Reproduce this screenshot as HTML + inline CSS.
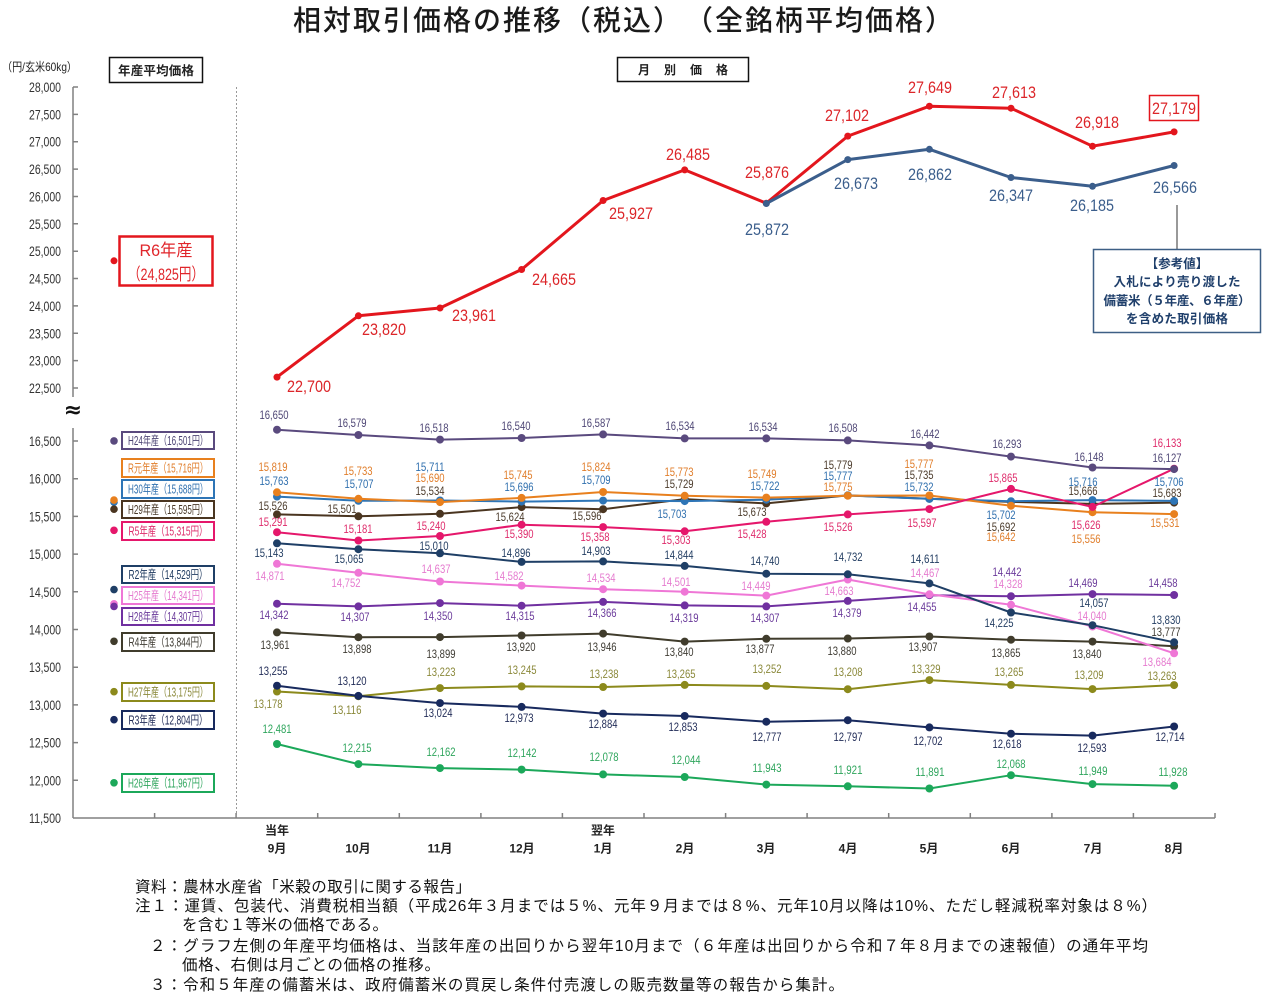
<!DOCTYPE html>
<html><head><meta charset="utf-8">
<style>
html,body{margin:0;padding:0;background:#fff;}
svg{display:block;}
.jp{font-family:"Liberation Sans","Noto Sans CJK JP",sans-serif;}
.n{font-family:"Liberation Sans Narrow","Liberation Sans",sans-serif;font-size:11.5px;text-anchor:middle;}
.u{font-family:"Liberation Sans Narrow","Liberation Sans",sans-serif;font-size:17px;text-anchor:middle;}
.t{font-family:"Liberation Sans Narrow","Liberation Sans",sans-serif;font-size:14px;text-anchor:end;fill:#333;}
.lg{font-family:"Liberation Sans","Noto Sans CJK JP",sans-serif;font-size:12.5px;text-anchor:middle;}
.mo{font-family:"Liberation Sans","Noto Sans CJK JP",sans-serif;font-size:12px;font-weight:bold;text-anchor:middle;fill:#222;}
.fn{font-family:"Liberation Sans","Noto Sans CJK JP",sans-serif;font-size:15.5px;fill:#111;}
.ln{fill:none;stroke-width:2;stroke-linejoin:round;}
</style></head>
<body>
<svg width="1277" height="1007" viewBox="0 0 1277 1007" xmlns="http://www.w3.org/2000/svg">
<defs>
<marker id="mR" markerUnits="userSpaceOnUse" markerWidth="10" markerHeight="10" viewBox="-5 -5 10 10" refX="0" refY="0"><circle r="3.5" fill="#e3161d"/></marker>
<marker id="mB" markerUnits="userSpaceOnUse" markerWidth="10" markerHeight="10" viewBox="-5 -5 10 10" refX="0" refY="0"><circle r="3.5" fill="#3b5e8c"/></marker>
<marker id="m1" markerUnits="userSpaceOnUse" markerWidth="10" markerHeight="10" viewBox="-5 -5 10 10" refX="0" refY="0"><circle r="4" fill="#5a4a7e"/></marker>
<marker id="m2" markerUnits="userSpaceOnUse" markerWidth="10" markerHeight="10" viewBox="-5 -5 10 10" refX="0" refY="0"><circle r="4" fill="#e8801e"/></marker>
<marker id="m3" markerUnits="userSpaceOnUse" markerWidth="10" markerHeight="10" viewBox="-5 -5 10 10" refX="0" refY="0"><circle r="4" fill="#2e75b6"/></marker>
<marker id="m4" markerUnits="userSpaceOnUse" markerWidth="10" markerHeight="10" viewBox="-5 -5 10 10" refX="0" refY="0"><circle r="4" fill="#4a3520"/></marker>
<marker id="m5" markerUnits="userSpaceOnUse" markerWidth="10" markerHeight="10" viewBox="-5 -5 10 10" refX="0" refY="0"><circle r="4" fill="#e5176b"/></marker>
<marker id="m6" markerUnits="userSpaceOnUse" markerWidth="10" markerHeight="10" viewBox="-5 -5 10 10" refX="0" refY="0"><circle r="4" fill="#1f3f66"/></marker>
<marker id="m7" markerUnits="userSpaceOnUse" markerWidth="10" markerHeight="10" viewBox="-5 -5 10 10" refX="0" refY="0"><circle r="4" fill="#ef77d6"/></marker>
<marker id="m8" markerUnits="userSpaceOnUse" markerWidth="10" markerHeight="10" viewBox="-5 -5 10 10" refX="0" refY="0"><circle r="4" fill="#7030a0"/></marker>
<marker id="m9" markerUnits="userSpaceOnUse" markerWidth="10" markerHeight="10" viewBox="-5 -5 10 10" refX="0" refY="0"><circle r="4" fill="#403c2c"/></marker>
<marker id="m10" markerUnits="userSpaceOnUse" markerWidth="10" markerHeight="10" viewBox="-5 -5 10 10" refX="0" refY="0"><circle r="4" fill="#8c8a1c"/></marker>
<marker id="m11" markerUnits="userSpaceOnUse" markerWidth="10" markerHeight="10" viewBox="-5 -5 10 10" refX="0" refY="0"><circle r="4" fill="#182a5e"/></marker>
<marker id="m12" markerUnits="userSpaceOnUse" markerWidth="10" markerHeight="10" viewBox="-5 -5 10 10" refX="0" refY="0"><circle r="4" fill="#1ca85a"/></marker>
</defs>

<!-- Title -->
<text class="jp" x="293" y="30" font-size="28" font-weight="500" fill="#1a1a1a" textLength="660" lengthAdjust="spacing">相対取引価格の推移（税込）　（全銘柄平均価格）</text>

<!-- unit and header boxes -->
<text class="jp" x="2" y="71" font-size="12" fill="#222" textLength="75" lengthAdjust="spacingAndGlyphs">（円/玄米60kg）</text>
<rect x="109.5" y="57.5" width="93" height="25" fill="#fff" stroke="#111" stroke-width="1.5"/>
<text class="jp" x="156" y="75" font-size="12.5" font-weight="bold" fill="#222" text-anchor="middle" textLength="76" lengthAdjust="spacing">年産平均価格</text>
<rect x="617.5" y="57.5" width="131" height="24" fill="#fff" stroke="#111" stroke-width="1.5"/>
<text class="jp" x="683" y="74" font-size="12" font-weight="bold" fill="#222" text-anchor="middle" textLength="90" lengthAdjust="spacing">月別価格</text>

<!-- axes -->
<g stroke="#808080" stroke-width="1.5" fill="none">
<line x1="73" y1="87" x2="73" y2="397"/>
<line x1="73" y1="428" x2="73" y2="818"/>
<line x1="73" y1="818" x2="1215" y2="818"/>
<path d="M73,87h5M73,114.4h5M73,141.7h5M73,169.1h5M73,196.5h5M73,223.8h5M73,251.2h5M73,278.5h5M73,305.9h5M73,333.3h5M73,360.6h5M73,388h5"/>
<path d="M73,441h5M73,478.7h5M73,516.4h5M73,554.1h5M73,591.8h5M73,629.5h5M73,667.2h5M73,704.9h5M73,742.6h5M73,780.3h5"/>
<path d="M154.6,818v-5M236.1,818v-5M317.7,818v-5M399.3,818v-5M480.9,818v-5M562.4,818v-5M644,818v-5M725.6,818v-5M807.1,818v-5M888.7,818v-5M970.3,818v-5M1051.9,818v-5M1133.4,818v-5M1215,818v-5"/>
</g>
<line x1="236.5" y1="87" x2="236.5" y2="818" stroke="#999" stroke-width="1" stroke-dasharray="2,2"/>
<text x="73" y="417" font-size="22" font-weight="bold" text-anchor="middle" fill="#111" font-family="DejaVu Sans,sans-serif">≈</text>

<!-- tick labels -->
<g class="t">
<text x="61" y="92" textLength="32" lengthAdjust="spacingAndGlyphs">28,000</text>
<text x="61" y="119.4" textLength="32" lengthAdjust="spacingAndGlyphs">27,500</text>
<text x="61" y="146.7" textLength="32" lengthAdjust="spacingAndGlyphs">27,000</text>
<text x="61" y="174.1" textLength="32" lengthAdjust="spacingAndGlyphs">26,500</text>
<text x="61" y="201.5" textLength="32" lengthAdjust="spacingAndGlyphs">26,000</text>
<text x="61" y="228.8" textLength="32" lengthAdjust="spacingAndGlyphs">25,500</text>
<text x="61" y="256.2" textLength="32" lengthAdjust="spacingAndGlyphs">25,000</text>
<text x="61" y="283.5" textLength="32" lengthAdjust="spacingAndGlyphs">24,500</text>
<text x="61" y="310.9" textLength="32" lengthAdjust="spacingAndGlyphs">24,000</text>
<text x="61" y="338.3" textLength="32" lengthAdjust="spacingAndGlyphs">23,500</text>
<text x="61" y="365.6" textLength="32" lengthAdjust="spacingAndGlyphs">23,000</text>
<text x="61" y="393" textLength="32" lengthAdjust="spacingAndGlyphs">22,500</text>
<text x="61" y="446" textLength="32" lengthAdjust="spacingAndGlyphs">16,500</text>
<text x="61" y="483.7" textLength="32" lengthAdjust="spacingAndGlyphs">16,000</text>
<text x="61" y="521.4" textLength="32" lengthAdjust="spacingAndGlyphs">15,500</text>
<text x="61" y="559.1" textLength="32" lengthAdjust="spacingAndGlyphs">15,000</text>
<text x="61" y="596.8" textLength="32" lengthAdjust="spacingAndGlyphs">14,500</text>
<text x="61" y="634.5" textLength="32" lengthAdjust="spacingAndGlyphs">14,000</text>
<text x="61" y="672.2" textLength="32" lengthAdjust="spacingAndGlyphs">13,500</text>
<text x="61" y="709.9" textLength="32" lengthAdjust="spacingAndGlyphs">13,000</text>
<text x="61" y="747.6" textLength="32" lengthAdjust="spacingAndGlyphs">12,500</text>
<text x="61" y="785.3" textLength="32" lengthAdjust="spacingAndGlyphs">12,000</text>
<text x="61" y="823" textLength="32" lengthAdjust="spacingAndGlyphs">11,500</text>
</g>

<!-- month labels -->
<g class="mo">
<text x="277" y="834.5">当年</text>
<text x="603" y="834.5">翌年</text>
<text x="277" y="852.5">9月</text>
<text x="358" y="852.5">10月</text>
<text x="440" y="852.5">11月</text>
<text x="522" y="852.5">12月</text>
<text x="603" y="852.5">1月</text>
<text x="685" y="852.5">2月</text>
<text x="766" y="852.5">3月</text>
<text x="848" y="852.5">4月</text>
<text x="929" y="852.5">5月</text>
<text x="1011" y="852.5">6月</text>
<text x="1093" y="852.5">7月</text>
<text x="1174" y="852.5">8月</text>
</g>

<!-- R6 upper -->
<circle cx="114" cy="260.8" r="3.5" fill="#e3161d"/>
<rect x="119.5" y="236.5" width="93" height="49" fill="#fff" stroke="#e3161d" stroke-width="2.5"/>
<text class="jp" x="166" y="256" font-size="17" fill="#e0262b" text-anchor="middle" textLength="53" lengthAdjust="spacingAndGlyphs">R6年産</text>
<text class="jp" x="166" y="280" font-size="17" fill="#e0262b" text-anchor="middle" textLength="76" lengthAdjust="spacingAndGlyphs">（24,825円）</text>

<polyline points="277,377.1 358.4,315.8 440,308 521.6,269.5 603.1,200.5 684.7,169.9 766.3,203.2 847.8,136.1 929.4,106.2 1011,108.2 1092.5,146.2 1174.1,131.9" fill="none" stroke="#e3161d" stroke-width="3" stroke-linejoin="round" marker-start="url(#mR)" marker-mid="url(#mR)" marker-end="url(#mR)"/>
<polyline points="766.3,203.5 847.8,159.6 929.4,149.3 1011,177.5 1092.5,186.3 1174.1,165.5" fill="none" stroke="#3b5e8c" stroke-width="3" stroke-linejoin="round" marker-start="url(#mB)" marker-mid="url(#mB)" marker-end="url(#mB)"/>

<g class="u" fill="#dc2529">
<text x="309" y="392" textLength="44" lengthAdjust="spacingAndGlyphs">22,700</text>
<text x="384" y="335" textLength="44" lengthAdjust="spacingAndGlyphs">23,820</text>
<text x="474" y="321" textLength="44" lengthAdjust="spacingAndGlyphs">23,961</text>
<text x="554" y="285" textLength="44" lengthAdjust="spacingAndGlyphs">24,665</text>
<text x="631" y="219" textLength="44" lengthAdjust="spacingAndGlyphs">25,927</text>
<text x="688" y="160" textLength="44" lengthAdjust="spacingAndGlyphs">26,485</text>
<text x="767" y="178" textLength="44" lengthAdjust="spacingAndGlyphs">25,876</text>
<text x="847" y="121" textLength="44" lengthAdjust="spacingAndGlyphs">27,102</text>
<text x="930" y="93" textLength="44" lengthAdjust="spacingAndGlyphs">27,649</text>
<text x="1014" y="98" textLength="44" lengthAdjust="spacingAndGlyphs">27,613</text>
<text x="1097" y="128" textLength="44" lengthAdjust="spacingAndGlyphs">26,918</text>
<text x="1174" y="114" textLength="44" lengthAdjust="spacingAndGlyphs">27,179</text>
</g>
<rect x="1149.5" y="95.5" width="49" height="25" fill="none" stroke="#e3161d" stroke-width="1.5"/>
<g class="u" fill="#3b5e8c">
<text x="767" y="235" textLength="44" lengthAdjust="spacingAndGlyphs">25,872</text>
<text x="856" y="189" textLength="44" lengthAdjust="spacingAndGlyphs">26,673</text>
<text x="930" y="180" textLength="44" lengthAdjust="spacingAndGlyphs">26,862</text>
<text x="1011" y="201" textLength="44" lengthAdjust="spacingAndGlyphs">26,347</text>
<text x="1092" y="211" textLength="44" lengthAdjust="spacingAndGlyphs">26,185</text>
<text x="1175" y="193" textLength="44" lengthAdjust="spacingAndGlyphs">26,566</text>
</g>

<!-- reference box -->
<line x1="1177" y1="205" x2="1177" y2="249" stroke="#555" stroke-width="1.2"/>
<rect x="1093.5" y="249.5" width="167" height="83" fill="#fff" stroke="#3d5f85" stroke-width="1.5"/>
<g class="jp" font-size="12.5" font-weight="bold" fill="#1f3f6b" text-anchor="middle">
<text x="1177" y="268">【参考値】</text>
<text x="1177" y="286" textLength="127" lengthAdjust="spacing">入札により売り渡した</text>
<text x="1177" y="305" textLength="147" lengthAdjust="spacing">備蓄米（５年産、６年産）</text>
<text x="1177" y="323" textLength="102" lengthAdjust="spacing">を含めた取引価格</text>
</g>

<!-- lower series lines -->
<polyline class="ln" stroke="#1ca85a" marker-start="url(#m12)" marker-mid="url(#m12)" marker-end="url(#m12)" points="277,744 358.4,764.1 440,768.1 521.6,769.6 603.1,774.4 684.7,777 766.3,784.6 847.8,786.3 929.4,788.5 1011,775.2 1092.5,784.1 1174.1,785.7"/>
<polyline class="ln" stroke="#8c8a1c" marker-start="url(#m10)" marker-mid="url(#m10)" marker-end="url(#m10)" points="277,691.5 358.4,696.2 440,688.1 521.6,686.4 603.1,687 684.7,684.9 766.3,685.9 847.8,689.2 929.4,680.1 1011,684.9 1092.5,689.1 1174.1,685.1"/>
<polyline class="ln" stroke="#182a5e" marker-start="url(#m11)" marker-mid="url(#m11)" marker-end="url(#m11)" points="277,685.7 358.4,695.9 440,703.1 521.6,706.9 603.1,713.6 684.7,716 766.3,721.7 847.8,720.2 929.4,727.4 1011,733.7 1092.5,735.6 1174.1,726.5"/>
<polyline class="ln" stroke="#403c2c" marker-start="url(#m9)" marker-mid="url(#m9)" marker-end="url(#m9)" points="277,632.4 358.4,637.2 440,637.1 521.6,635.5 603.1,633.6 684.7,641.6 766.3,638.8 847.8,638.5 929.4,636.5 1011,639.7 1092.5,641.6 1174.1,646.3"/>
<polyline class="ln" stroke="#7030a0" marker-start="url(#m8)" marker-mid="url(#m8)" marker-end="url(#m8)" points="277,603.7 358.4,606.4 440,603.1 521.6,605.7 603.1,601.9 684.7,605.4 766.3,606.4 847.8,600.9 929.4,595.2 1011,596.2 1092.5,594.1 1174.1,595"/>
<polyline class="ln" stroke="#ef77d6" marker-start="url(#m7)" marker-mid="url(#m7)" marker-end="url(#m7)" points="277,563.8 358.4,572.8 440,581.5 521.6,585.6 603.1,589.2 684.7,591.7 766.3,595.6 847.8,579.5 929.4,594.3 1011,604.8 1092.5,626.5 1174.1,653.3"/>
<polyline class="ln" stroke="#1f3f66" marker-start="url(#m6)" marker-mid="url(#m6)" marker-end="url(#m6)" points="277,543.3 358.4,549.2 440,553.3 521.6,561.9 603.1,561.4 684.7,565.9 766.3,573.7 847.8,574.3 929.4,583.4 1011,612.5 1092.5,625.2 1174.1,642.3"/>
<polyline class="ln" stroke="#4a3520" marker-start="url(#m4)" marker-mid="url(#m4)" marker-end="url(#m4)" points="277,514.4 358.4,516.3 440,513.8 521.6,507.1 603.1,509.2 684.7,499.1 766.3,503.4 847.8,495.4 929.4,498.7 1011,501.9 1092.5,503.9 1174.1,502.6"/>
<polyline class="ln" stroke="#2e75b6" marker-start="url(#m3)" marker-mid="url(#m3)" marker-end="url(#m3)" points="277,496.6 358.4,500.8 440,500.5 521.6,501.6 603.1,500.6 684.7,501.1 766.3,499.7 847.8,495.5 929.4,498.9 1011,501.2 1092.5,500.1 1174.1,500.9"/>
<polyline class="ln" stroke="#e8801e" marker-start="url(#m2)" marker-mid="url(#m2)" marker-end="url(#m2)" points="277,492.3 358.4,498.8 440,502.1 521.6,497.9 603.1,492 684.7,495.8 766.3,497.6 847.8,495.7 929.4,495.5 1011,505.7 1092.5,512.2 1174.1,514.1"/>
<polyline class="ln" stroke="#e5176b" marker-start="url(#m5)" marker-mid="url(#m5)" marker-end="url(#m5)" points="277,532.2 358.4,540.5 440,536 521.6,524.7 603.1,527.1 684.7,531.3 766.3,521.8 847.8,514.4 929.4,509.1 1011,488.9 1092.5,506.9 1174.1,468.7"/>
<polyline class="ln" stroke="#5a4a7e" marker-start="url(#m1)" marker-mid="url(#m1)" marker-end="url(#m1)" points="277,429.7 358.4,435 440,439.6 521.6,438 603.1,434.4 684.7,438.4 766.3,438.4 847.8,440.4 929.4,445.4 1011,456.6 1092.5,467.5 1174.1,469.1"/>

<!-- legend dots -->
<g>
<circle cx="114" cy="440.9" r="3.8" fill="#5a4a7e"/>
<circle cx="114" cy="502.2" r="3.8" fill="#2e75b6"/>
<circle cx="114" cy="500.1" r="3.8" fill="#e8801e"/>
<circle cx="114" cy="509.2" r="3.8" fill="#4a3520"/>
<circle cx="114" cy="530.3" r="3.8" fill="#e5176b"/>
<circle cx="114" cy="589.6" r="3.8" fill="#1f3f66"/>
<circle cx="114" cy="603.8" r="3.8" fill="#ef77d6"/>
<circle cx="114" cy="606.4" r="3.8" fill="#7030a0"/>
<circle cx="114" cy="641.3" r="3.8" fill="#403c2c"/>
<circle cx="114" cy="691.7" r="3.8" fill="#8c8a1c"/>
<circle cx="114" cy="719.7" r="3.8" fill="#182a5e"/>
<circle cx="114" cy="782.8" r="3.8" fill="#1ca85a"/>
</g>

<!-- legend boxes -->
<g fill="#fff" stroke-width="2">
<rect x="122" y="432" width="92" height="17" stroke="#5a4a7e"/>
<rect x="122" y="459" width="92" height="18" stroke="#e8801e"/>
<rect x="122" y="480" width="92" height="18" stroke="#2e75b6"/>
<rect x="122" y="501" width="92" height="17" stroke="#4a3520"/>
<rect x="122" y="522" width="92" height="18" stroke="#e5176b"/>
<rect x="122" y="566" width="92" height="17" stroke="#1f3f66"/>
<rect x="122" y="587" width="92" height="17" stroke="#ef77d6"/>
<rect x="122" y="608" width="92" height="17" stroke="#7030a0"/>
<rect x="122" y="633" width="92" height="18" stroke="#403c2c"/>
<rect x="122" y="683" width="92" height="18" stroke="#8c8a1c"/>
<rect x="122" y="711" width="92" height="18" stroke="#182a5e"/>
<rect x="122" y="774" width="92" height="18" stroke="#1ca85a"/>
</g>
<g class="lg">
<text x="168" y="445" fill="#4e4675" textLength="80" lengthAdjust="spacingAndGlyphs">H24年産（16,501円）</text>
<text x="168" y="472.5" fill="#e07d2a" textLength="80" lengthAdjust="spacingAndGlyphs">R元年産（15,716円）</text>
<text x="168" y="493.5" fill="#2f6fae" textLength="80" lengthAdjust="spacingAndGlyphs">H30年産（15,688円）</text>
<text x="168" y="514" fill="#4a3a2a" textLength="80" lengthAdjust="spacingAndGlyphs">H29年産（15,595円）</text>
<text x="168" y="535.5" fill="#de2a6a" textLength="79" lengthAdjust="spacingAndGlyphs">R5年産（15,315円）</text>
<text x="168" y="579" fill="#223d62" textLength="79" lengthAdjust="spacingAndGlyphs">R2年産（14,529円）</text>
<text x="168" y="600" fill="#e57bcf" textLength="80" lengthAdjust="spacingAndGlyphs">H25年産（14,341円）</text>
<text x="168" y="621" fill="#6a3a9a" textLength="80" lengthAdjust="spacingAndGlyphs">H28年産（14,307円）</text>
<text x="168" y="646.5" fill="#3e3b33" textLength="79" lengthAdjust="spacingAndGlyphs">R4年産（13,844円）</text>
<text x="168" y="696.5" fill="#8a8839" textLength="80" lengthAdjust="spacingAndGlyphs">H27年産（13,175円）</text>
<text x="168" y="724.5" fill="#1f2a56" textLength="79" lengthAdjust="spacingAndGlyphs">R3年産（12,804円）</text>
<text x="168" y="787.5" fill="#2ea55c" textLength="80" lengthAdjust="spacingAndGlyphs">H26年産（11,967円）</text>
</g>

<!-- lower data labels -->
<g class="n" fill="#4e4675">
<text x="274" y="419" textLength="29" lengthAdjust="spacingAndGlyphs">16,650</text>
<text x="352" y="427" textLength="29" lengthAdjust="spacingAndGlyphs">16,579</text>
<text x="434" y="432" textLength="29" lengthAdjust="spacingAndGlyphs">16,518</text>
<text x="516" y="430" textLength="29" lengthAdjust="spacingAndGlyphs">16,540</text>
<text x="596" y="427" textLength="29" lengthAdjust="spacingAndGlyphs">16,587</text>
<text x="680" y="430" textLength="29" lengthAdjust="spacingAndGlyphs">16,534</text>
<text x="763" y="431" textLength="29" lengthAdjust="spacingAndGlyphs">16,534</text>
<text x="843" y="432" textLength="29" lengthAdjust="spacingAndGlyphs">16,508</text>
<text x="925" y="438" textLength="29" lengthAdjust="spacingAndGlyphs">16,442</text>
<text x="1007" y="448" textLength="29" lengthAdjust="spacingAndGlyphs">16,293</text>
<text x="1089" y="461" textLength="29" lengthAdjust="spacingAndGlyphs">16,148</text>
<text x="1167" y="462" textLength="29" lengthAdjust="spacingAndGlyphs">16,127</text>
</g>
<g class="n" fill="#e07d2a">
<text x="273" y="471" textLength="29" lengthAdjust="spacingAndGlyphs">15,819</text>
<text x="358" y="475" textLength="29" lengthAdjust="spacingAndGlyphs">15,733</text>
<text x="430" y="482" textLength="29" lengthAdjust="spacingAndGlyphs">15,690</text>
<text x="518" y="479" textLength="29" lengthAdjust="spacingAndGlyphs">15,745</text>
<text x="596" y="471" textLength="29" lengthAdjust="spacingAndGlyphs">15,824</text>
<text x="679" y="476" textLength="29" lengthAdjust="spacingAndGlyphs">15,773</text>
<text x="762" y="478" textLength="29" lengthAdjust="spacingAndGlyphs">15,749</text>
<text x="838" y="491" textLength="29" lengthAdjust="spacingAndGlyphs">15,775</text>
<text x="919" y="468" textLength="29" lengthAdjust="spacingAndGlyphs">15,777</text>
<text x="1001" y="541" textLength="29" lengthAdjust="spacingAndGlyphs">15,642</text>
<text x="1086" y="543" textLength="29" lengthAdjust="spacingAndGlyphs">15,556</text>
<text x="1165" y="527" textLength="29" lengthAdjust="spacingAndGlyphs">15,531</text>
</g>
<g class="n" fill="#2f6fae">
<text x="274" y="485" textLength="29" lengthAdjust="spacingAndGlyphs">15,763</text>
<text x="359" y="488" textLength="29" lengthAdjust="spacingAndGlyphs">15,707</text>
<text x="430" y="471" textLength="29" lengthAdjust="spacingAndGlyphs">15,711</text>
<text x="519" y="491" textLength="29" lengthAdjust="spacingAndGlyphs">15,696</text>
<text x="596" y="484" textLength="29" lengthAdjust="spacingAndGlyphs">15,709</text>
<text x="672" y="518" textLength="29" lengthAdjust="spacingAndGlyphs">15,703</text>
<text x="765" y="490" textLength="29" lengthAdjust="spacingAndGlyphs">15,722</text>
<text x="838" y="480" textLength="29" lengthAdjust="spacingAndGlyphs">15,777</text>
<text x="919" y="491" textLength="29" lengthAdjust="spacingAndGlyphs">15,732</text>
<text x="1001" y="519" textLength="29" lengthAdjust="spacingAndGlyphs">15,702</text>
<text x="1083" y="486" textLength="29" lengthAdjust="spacingAndGlyphs">15,716</text>
<text x="1169" y="486" textLength="29" lengthAdjust="spacingAndGlyphs">15,706</text>
</g>
<g class="n" fill="#4a3a2a">
<text x="273" y="510" textLength="29" lengthAdjust="spacingAndGlyphs">15,526</text>
<text x="342" y="513" textLength="29" lengthAdjust="spacingAndGlyphs">15,501</text>
<text x="430" y="495" textLength="29" lengthAdjust="spacingAndGlyphs">15,534</text>
<text x="510" y="521" textLength="29" lengthAdjust="spacingAndGlyphs">15,624</text>
<text x="587" y="520" textLength="29" lengthAdjust="spacingAndGlyphs">15,596</text>
<text x="679" y="488" textLength="29" lengthAdjust="spacingAndGlyphs">15,729</text>
<text x="752" y="516" textLength="29" lengthAdjust="spacingAndGlyphs">15,673</text>
<text x="838" y="469" textLength="29" lengthAdjust="spacingAndGlyphs">15,779</text>
<text x="919" y="479" textLength="29" lengthAdjust="spacingAndGlyphs">15,735</text>
<text x="1001" y="531" textLength="29" lengthAdjust="spacingAndGlyphs">15,692</text>
<text x="1083" y="495" textLength="29" lengthAdjust="spacingAndGlyphs">15,666</text>
<text x="1167" y="497" textLength="29" lengthAdjust="spacingAndGlyphs">15,683</text>
</g>
<g class="n" fill="#de2a6a">
<text x="273" y="526" textLength="29" lengthAdjust="spacingAndGlyphs">15,291</text>
<text x="358" y="533" textLength="29" lengthAdjust="spacingAndGlyphs">15,181</text>
<text x="431" y="530" textLength="29" lengthAdjust="spacingAndGlyphs">15,240</text>
<text x="519" y="538" textLength="29" lengthAdjust="spacingAndGlyphs">15,390</text>
<text x="595" y="541" textLength="29" lengthAdjust="spacingAndGlyphs">15,358</text>
<text x="676" y="544" textLength="29" lengthAdjust="spacingAndGlyphs">15,303</text>
<text x="752" y="538" textLength="29" lengthAdjust="spacingAndGlyphs">15,428</text>
<text x="838" y="531" textLength="29" lengthAdjust="spacingAndGlyphs">15,526</text>
<text x="922" y="527" textLength="29" lengthAdjust="spacingAndGlyphs">15,597</text>
<text x="1003" y="482" textLength="29" lengthAdjust="spacingAndGlyphs">15,865</text>
<text x="1086" y="529" textLength="29" lengthAdjust="spacingAndGlyphs">15,626</text>
<text x="1167" y="447" textLength="29" lengthAdjust="spacingAndGlyphs">16,133</text>
</g>
<g class="n" fill="#223d62">
<text x="269" y="557" textLength="29" lengthAdjust="spacingAndGlyphs">15,143</text>
<text x="349" y="563" textLength="29" lengthAdjust="spacingAndGlyphs">15,065</text>
<text x="434" y="550" textLength="29" lengthAdjust="spacingAndGlyphs">15,010</text>
<text x="516" y="557" textLength="29" lengthAdjust="spacingAndGlyphs">14,896</text>
<text x="596" y="555" textLength="29" lengthAdjust="spacingAndGlyphs">14,903</text>
<text x="679" y="559" textLength="29" lengthAdjust="spacingAndGlyphs">14,844</text>
<text x="765" y="565" textLength="29" lengthAdjust="spacingAndGlyphs">14,740</text>
<text x="848" y="561" textLength="29" lengthAdjust="spacingAndGlyphs">14,732</text>
<text x="925" y="563" textLength="29" lengthAdjust="spacingAndGlyphs">14,611</text>
<text x="999" y="627" textLength="29" lengthAdjust="spacingAndGlyphs">14,225</text>
<text x="1094" y="607" textLength="29" lengthAdjust="spacingAndGlyphs">14,057</text>
<text x="1166" y="624" textLength="29" lengthAdjust="spacingAndGlyphs">13,830</text>
</g>
<g class="n" fill="#e57bcf">
<text x="270" y="580" textLength="29" lengthAdjust="spacingAndGlyphs">14,871</text>
<text x="346" y="587" textLength="29" lengthAdjust="spacingAndGlyphs">14,752</text>
<text x="436" y="573" textLength="29" lengthAdjust="spacingAndGlyphs">14,637</text>
<text x="509" y="580" textLength="29" lengthAdjust="spacingAndGlyphs">14,582</text>
<text x="601" y="582" textLength="29" lengthAdjust="spacingAndGlyphs">14,534</text>
<text x="676" y="586" textLength="29" lengthAdjust="spacingAndGlyphs">14,501</text>
<text x="756" y="590" textLength="29" lengthAdjust="spacingAndGlyphs">14,449</text>
<text x="839" y="595" textLength="29" lengthAdjust="spacingAndGlyphs">14,663</text>
<text x="925" y="577" textLength="29" lengthAdjust="spacingAndGlyphs">14,467</text>
<text x="1008" y="588" textLength="29" lengthAdjust="spacingAndGlyphs">14,328</text>
<text x="1092" y="620" textLength="29" lengthAdjust="spacingAndGlyphs">14,040</text>
<text x="1157" y="666" textLength="29" lengthAdjust="spacingAndGlyphs">13,684</text>
</g>
<g class="n" fill="#6a3a9a">
<text x="274" y="619" textLength="29" lengthAdjust="spacingAndGlyphs">14,342</text>
<text x="355" y="621" textLength="29" lengthAdjust="spacingAndGlyphs">14,307</text>
<text x="438" y="620" textLength="29" lengthAdjust="spacingAndGlyphs">14,350</text>
<text x="520" y="620" textLength="29" lengthAdjust="spacingAndGlyphs">14,315</text>
<text x="602" y="617" textLength="29" lengthAdjust="spacingAndGlyphs">14,366</text>
<text x="684" y="622" textLength="29" lengthAdjust="spacingAndGlyphs">14,319</text>
<text x="765" y="622" textLength="29" lengthAdjust="spacingAndGlyphs">14,307</text>
<text x="847" y="617" textLength="29" lengthAdjust="spacingAndGlyphs">14,379</text>
<text x="922" y="611" textLength="29" lengthAdjust="spacingAndGlyphs">14,455</text>
<text x="1007" y="576" textLength="29" lengthAdjust="spacingAndGlyphs">14,442</text>
<text x="1083" y="587" textLength="29" lengthAdjust="spacingAndGlyphs">14,469</text>
<text x="1163" y="587" textLength="29" lengthAdjust="spacingAndGlyphs">14,458</text>
</g>
<g class="n" fill="#3e3b33">
<text x="275" y="649" textLength="29" lengthAdjust="spacingAndGlyphs">13,961</text>
<text x="357" y="653" textLength="29" lengthAdjust="spacingAndGlyphs">13,898</text>
<text x="441" y="658" textLength="29" lengthAdjust="spacingAndGlyphs">13,899</text>
<text x="521" y="651" textLength="29" lengthAdjust="spacingAndGlyphs">13,920</text>
<text x="602" y="651" textLength="29" lengthAdjust="spacingAndGlyphs">13,946</text>
<text x="679" y="656" textLength="29" lengthAdjust="spacingAndGlyphs">13,840</text>
<text x="760" y="653" textLength="29" lengthAdjust="spacingAndGlyphs">13,877</text>
<text x="842" y="655" textLength="29" lengthAdjust="spacingAndGlyphs">13,880</text>
<text x="923" y="651" textLength="29" lengthAdjust="spacingAndGlyphs">13,907</text>
<text x="1006" y="657" textLength="29" lengthAdjust="spacingAndGlyphs">13,865</text>
<text x="1087" y="658" textLength="29" lengthAdjust="spacingAndGlyphs">13,840</text>
<text x="1166" y="636" textLength="29" lengthAdjust="spacingAndGlyphs">13,777</text>
</g>
<g class="n" fill="#8a8839">
<text x="268" y="708" textLength="29" lengthAdjust="spacingAndGlyphs">13,178</text>
<text x="347" y="714" textLength="29" lengthAdjust="spacingAndGlyphs">13,116</text>
<text x="441" y="676" textLength="29" lengthAdjust="spacingAndGlyphs">13,223</text>
<text x="522" y="674" textLength="29" lengthAdjust="spacingAndGlyphs">13,245</text>
<text x="604" y="678" textLength="29" lengthAdjust="spacingAndGlyphs">13,238</text>
<text x="681" y="678" textLength="29" lengthAdjust="spacingAndGlyphs">13,265</text>
<text x="767" y="673" textLength="29" lengthAdjust="spacingAndGlyphs">13,252</text>
<text x="848" y="676" textLength="29" lengthAdjust="spacingAndGlyphs">13,208</text>
<text x="926" y="673" textLength="29" lengthAdjust="spacingAndGlyphs">13,329</text>
<text x="1009" y="676" textLength="29" lengthAdjust="spacingAndGlyphs">13,265</text>
<text x="1089" y="679" textLength="29" lengthAdjust="spacingAndGlyphs">13,209</text>
<text x="1162" y="680" textLength="29" lengthAdjust="spacingAndGlyphs">13,263</text>
</g>
<g class="n" fill="#1f2a56">
<text x="273" y="675" textLength="29" lengthAdjust="spacingAndGlyphs">13,255</text>
<text x="352" y="685" textLength="29" lengthAdjust="spacingAndGlyphs">13,120</text>
<text x="438" y="717" textLength="29" lengthAdjust="spacingAndGlyphs">13,024</text>
<text x="519" y="722" textLength="29" lengthAdjust="spacingAndGlyphs">12,973</text>
<text x="603" y="728" textLength="29" lengthAdjust="spacingAndGlyphs">12,884</text>
<text x="683" y="731" textLength="29" lengthAdjust="spacingAndGlyphs">12,853</text>
<text x="767" y="741" textLength="29" lengthAdjust="spacingAndGlyphs">12,777</text>
<text x="848" y="741" textLength="29" lengthAdjust="spacingAndGlyphs">12,797</text>
<text x="928" y="745" textLength="29" lengthAdjust="spacingAndGlyphs">12,702</text>
<text x="1007" y="748" textLength="29" lengthAdjust="spacingAndGlyphs">12,618</text>
<text x="1092" y="752" textLength="29" lengthAdjust="spacingAndGlyphs">12,593</text>
<text x="1170" y="741" textLength="29" lengthAdjust="spacingAndGlyphs">12,714</text>
</g>
<g class="n" fill="#2ea55c">
<text x="277" y="733" textLength="29" lengthAdjust="spacingAndGlyphs">12,481</text>
<text x="357" y="752" textLength="29" lengthAdjust="spacingAndGlyphs">12,215</text>
<text x="441" y="756" textLength="29" lengthAdjust="spacingAndGlyphs">12,162</text>
<text x="522" y="757" textLength="29" lengthAdjust="spacingAndGlyphs">12,142</text>
<text x="604" y="761" textLength="29" lengthAdjust="spacingAndGlyphs">12,078</text>
<text x="686" y="764" textLength="29" lengthAdjust="spacingAndGlyphs">12,044</text>
<text x="767" y="772" textLength="29" lengthAdjust="spacingAndGlyphs">11,943</text>
<text x="848" y="774" textLength="29" lengthAdjust="spacingAndGlyphs">11,921</text>
<text x="930" y="776" textLength="29" lengthAdjust="spacingAndGlyphs">11,891</text>
<text x="1011" y="768" textLength="29" lengthAdjust="spacingAndGlyphs">12,068</text>
<text x="1093" y="775" textLength="29" lengthAdjust="spacingAndGlyphs">11,949</text>
<text x="1173" y="776" textLength="29" lengthAdjust="spacingAndGlyphs">11,928</text>
</g>

<!-- footnotes -->
<g class="fn">
<text x="135" y="892" textLength="336" lengthAdjust="spacing">資料：農林水産省「米穀の取引に関する報告」</text>
<text x="135" y="911" textLength="1022" lengthAdjust="spacing">注１：運賃、包装代、消費税相当額（平成26年３月までは５%、元年９月までは８%、元年10月以降は10%、ただし軽減税率対象は８%）</text>
<text x="182" y="930" textLength="206" lengthAdjust="spacing">を含む１等米の価格である。</text>
<text x="150" y="951" textLength="998" lengthAdjust="spacing">２：グラフ左側の年産平均価格は、当該年産の出回りから翌年10月まで（６年産は出回りから令和７年８月までの速報値）の通年平均</text>
<text x="182" y="970" textLength="258" lengthAdjust="spacing">価格、右側は月ごとの価格の推移。</text>
<text x="150" y="990" textLength="694" lengthAdjust="spacing">３：令和５年産の備蓄米は、政府備蓄米の買戻し条件付売渡しの販売数量等の報告から集計。</text>
</g>
</svg>
</body></html>
